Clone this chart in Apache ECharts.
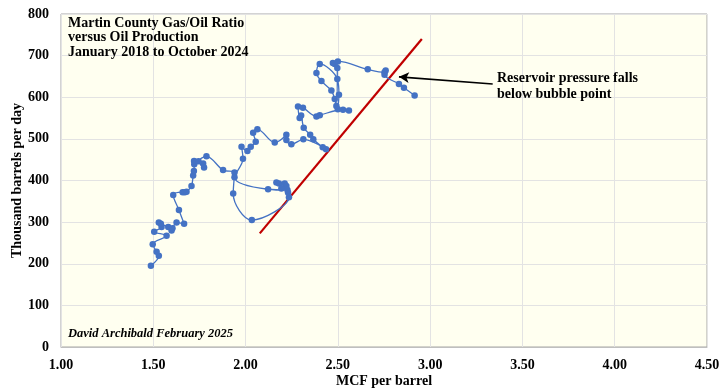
<!DOCTYPE html>
<html><head><meta charset="utf-8">
<script src="https://cdn.jsdelivr.net/npm/echarts@6/dist/echarts.min.js"></script>
<style>html,body{margin:0;padding:0;background:#fff}#c{width:720px;height:388px}</style>
</head><body><div id="c"></div>
<script>
// Gas/oil ratio (MCF per barrel), chronological Jan 2018 -> Oct 2024
var gor = [1.487,1.530,1.518,1.497,1.572,1.505,1.545,1.530,1.541,1.581,1.599,1.604,1.626,1.667,1.639,1.608,1.659,1.671,1.680,1.707,1.716,1.720,1.722,1.721,1.770,1.775,1.745,1.788,1.878,1.940,1.933,2.034,2.235,2.230,2.181,2.167,2.212,2.221,2.194,2.227,2.122,1.940,1.986,1.978,2.010,2.028,2.055,2.041,2.064,2.158,2.221,2.221,2.248,2.313,2.436,2.418,2.367,2.350,2.315,2.301,2.293,2.284,2.311,2.384,2.402,2.528,2.560,2.500,2.506,2.497,2.402,2.384,2.411,2.465,2.483,2.492,2.497,2.483,2.473,2.500,2.662,2.753,2.759,2.753,2.831,2.858,2.916];
// Oil production, thousand barrels per day
var oil = [195,219,229,247,267,277,288,299,296,288,280,285,299,296,329,365,372,372,373,387,412,423,439,447,441,431,446,458,425,419,369,305,360,371,393,395,393,387,381,377,379,408,452,481,471,481,493,515,523,491,510,497,487,499,475,480,499,510,527,556,550,578,575,554,557,570,568,571,606,644,680,658,639,616,596,579,670,680,682,686,667,660,664,654,632,623,604];
// Bubble point trend line endpoints
var trendX = [2.077, 2.955];
var trendY = [273, 740];
// Arrow: from label to point
var arrowX = [3.339, 2.831];
var arrowY = [632, 649];
var xTicks = ['1.00','1.50','2.00','2.50','3.00','3.50','4.00','4.50'];

var serif = '"Liberation Serif", "DejaVu Serif", serif';
var pts = gor.map(function(v,i){return [v, oil[i]];});
var trend = trendX.map(function(v,i){return [v, trendY[i]];});

var chart = echarts.init(document.getElementById('c'));
chart.setOption({
  animation: false,
  backgroundColor: '#ffffff',
  grid: {left: 61, right: 13, top: 14, bottom: 41, containLabel: false, outerBoundsMode: 'none',
    show: true, backgroundColor: '#FFFFF0', borderColor: '#A6A6A6', borderWidth: 1},
  xAxis: {
    type: 'value', min: 1, max: 4.5, interval: 0.5,
    name: 'MCF per barrel', nameLocation: 'middle', nameGap: 27, nameMoveOverlap: false,
    nameTextStyle: {fontFamily: serif, fontWeight: 'bold', fontSize: 14, color: '#000'},
    axisLine: {show: true, lineStyle: {color: '#BFBFBF'}},
    axisTick: {show: false},
    axisLabel: {fontFamily: serif, fontWeight: 'bold', fontSize: 14, color: '#000', margin: 11,
      formatter: function(v){ return xTicks[Math.round((v-1)/0.5)]; }},
    splitLine: {show: true, lineStyle: {color: '#E3E3E3'}}
  },
  yAxis: {
    type: 'value', min: 0, max: 800, interval: 100,
    name: 'Thousand barrels per day', nameLocation: 'middle', nameGap: 37, nameMoveOverlap: false,
    nameTextStyle: {fontFamily: serif, fontWeight: 'bold', fontSize: 14, color: '#000'},
    axisLine: {show: false}, axisTick: {show: false},
    axisLabel: {fontFamily: serif, fontWeight: 'bold', fontSize: 14, color: '#000', margin: 12},
    splitLine: {show: true, lineStyle: {color: '#E3E3E3'}}
  },
  series: [
    {type: 'line', data: trend, symbol: 'none', lineStyle: {color: '#C00000', width: 2.2}, z: 3},
    {type: 'line', data: pts, smooth: 0.35, symbol: 'circle', symbolSize: 6.5,
     itemStyle: {color: '#4472C4'}, lineStyle: {color: '#4472C4', width: 1.3}, z: 4},
    {type: 'line', data: [], symbol: 'none',
     markLine: {silent: true, symbol: ['none', 'arrow'], symbolSize: [8, 10], label: {show: false},
       lineStyle: {color: '#000', width: 1.6, type: 'solid'},
       data: [[{coord: [arrowX[0], arrowY[0]]}, {coord: [arrowX[1], arrowY[1]]}]]}, z: 5}
  ],
  graphic: [
    {type: 'text', left: 68, top: 16, z: 100, style: {text: 'Martin County Gas/Oil Ratio\nversus Oil Production\nJanuary 2018 to October 2024',
      font: 'bold 14px ' + serif, fill: '#000', lineHeight: 14.5}},
    {type: 'text', left: 68, top: 327, z: 100, style: {text: 'David Archibald February 2025', font: 'italic bold 12.5px ' + serif, fill: '#000'}},
    {type: 'text', left: 497, top: 70, z: 100, style: {text: 'Reservoir pressure falls\nbelow bubble point', font: 'bold 14px ' + serif, fill: '#000', lineHeight: 16.5}}
  ]
});
</script></body></html>
